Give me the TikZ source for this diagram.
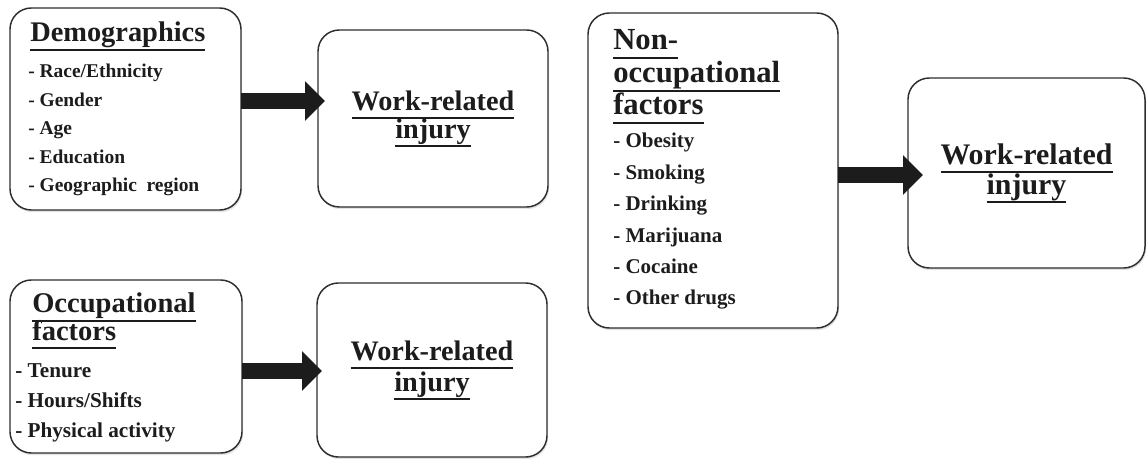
\documentclass[tikz,border=0pt]{standalone}
\usepackage{fontspec}
\setmainfont{Liberation Serif}
\usetikzlibrary{arrows.meta,shadows}

\definecolor{boxline}{HTML}{2E2E2E}
\definecolor{inkdark}{HTML}{1C1C1C}

% subrayado grueso de los titulos
\newcommand{\hdline}[1]{\setbox0=\hbox{#1}\leavevmode\rlap{\rule[-6.4pt]{\wd0}{1.5pt}}\box0}

\tikzset{
  factorbox/.style={draw=boxline, line width=1.1pt, rounded corners=16pt, fill=white,
    inner sep=0pt, outer sep=0pt,
    drop shadow={shadow xshift=0.8pt, shadow yshift=-1.6pt, opacity=0.22}},
  injurybox/.style={factorbox, align=center, text=inkdark},
  headtext/.style={anchor=base west, inner sep=0pt, text=inkdark},
  itemtext/.style={anchor=base west, inner sep=0pt, text=inkdark},
  blockarrow/.style={draw=inkdark, line width=12pt, -{Triangle[length=15pt,width=29pt]}}
}

\begin{document}
\begin{tikzpicture}[x=0.75pt,y=-0.75pt]
  \useasboundingbox (0,0) rectangle (1148,459);
  % Cajas de factores
  \node[factorbox, minimum width=173.25pt, minimum height=151.5pt] (demo) at (125.5,109) {};
  \node[factorbox, minimum width=174pt, minimum height=129.75pt] (occ) at (126,366.5) {};
  \node[factorbox, minimum width=187.5pt, minimum height=236.25pt] (nonocc) at (713,170.5) {};
  % Cajas de lesion
  \node[injurybox, minimum width=172.5pt, minimum height=132.75pt,
    font={\bfseries\fontsize{21.2}{21}\selectfont\lineskiplimit=-20pt}] (injA) at (433,118.5)
    {\hdline{Work-related}\\\hdline{injury}};
  \node[injurybox, minimum width=172.5pt, minimum height=130.5pt,
    font={\bfseries\fontsize{21.2}{23.2}\selectfont\lineskiplimit=-20pt}] (injB) at (432,370)
    {\hdline{Work-related}\\\hdline{injury}};
  \node[injurybox, minimum width=177.75pt, minimum height=142.5pt,
    font={\bfseries\fontsize{22.4}{22.5}\selectfont\lineskiplimit=-20pt}] (injC) at (1026.5,173)
    {\hdline{Work-related}\\\hdline{injury}};
  % Demographics
  \node[headtext, font=\bfseries\fontsize{21.3}{26}\selectfont] (demo-head) at (30,42) {\hdline{Demographics}};
  \foreach \t [count=\i from 0] in {Race/Ethnicity,Gender,Age,Education,Geographic~~region}
    \node[itemtext, font=\bfseries\fontsize{14.6}{18}\selectfont] (demo-\i) at (28,78+28.5*\i) {- \t};
  % Occupational factors
  \node[headtext, font=\bfseries\fontsize{21.4}{26}\selectfont] (occ-head1) at (32,313) {\hdline{Occupational}};
  \node[headtext, font=\bfseries\fontsize{21.4}{26}\selectfont] (occ-head2) at (32,340) {\hdline{factors}};
  \foreach \t [count=\i from 0] in {Tenure,Hours/Shifts,Physical activity}
    \node[itemtext, font=\bfseries\fontsize{15.9}{19}\selectfont] (occ-\i) at (15,377+30*\i) {- \t};
  % Non-occupational factors
  \node[headtext, font=\bfseries\fontsize{23}{28}\selectfont] (nonocc-head1) at (613,50) {\hdline{Non-}};
  \node[headtext, font=\bfseries\fontsize{23}{28}\selectfont] (nonocc-head2) at (613,83) {\hdline{occupational}};
  \node[headtext, font=\bfseries\fontsize{23}{28}\selectfont] (nonocc-head3) at (613,115) {\hdline{factors}};
  \foreach \t [count=\i from 0] in {Obesity,Smoking,Drinking,Marijuana,Cocaine,Other drugs}
    \node[itemtext, font=\bfseries\fontsize{15.75}{19}\selectfont] (nonocc-\i) at (613,148+31.4*\i) {- \t};
  % Flechas
  \coordinate (a1) at ([yshift=6pt]demo.east);
  \coordinate (b1) at ([xshift=5.25pt]injA.west);
  \draw[blockarrow] (a1) -- (a1 -| b1);
  \coordinate (a2) at ([yshift=-3.4pt]occ.east);
  \coordinate (b2) at ([xshift=3.75pt]injB.west);
  \draw[blockarrow] (a2) -- (a2 -| b2);
  \coordinate (a3) at ([yshift=-3.4pt]nonocc.east);
  \coordinate (b3) at ([xshift=11.25pt]injC.west);
  \draw[blockarrow] (a3) -- (a3 -| b3);
\end{tikzpicture}
\end{document}
